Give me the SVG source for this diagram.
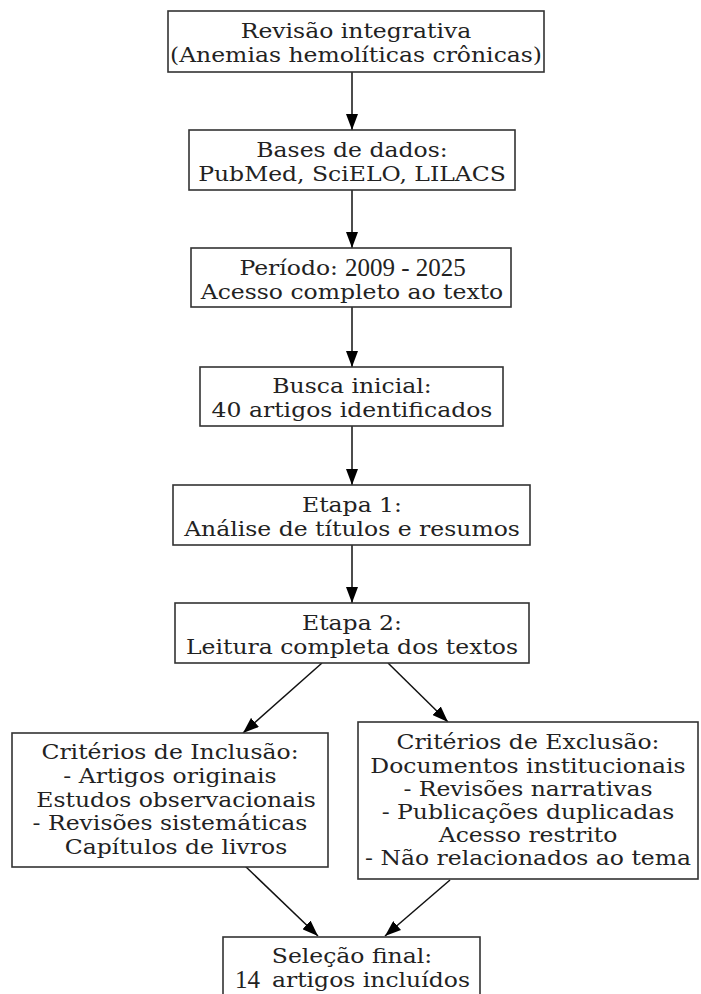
<svg xmlns="http://www.w3.org/2000/svg" width="701" height="994" viewBox="0 0 701 994">
<defs>
<marker id="ah" markerWidth="16" markerHeight="12" refX="16" refY="6" orient="auto" markerUnits="userSpaceOnUse">
<path d="M0,0 L16,6 L0,12 Z" fill="#000"/>
</marker>
<style>
.box{fill:#fff;stroke:#333;stroke-width:1.6}
.t{font-family:"DejaVu Serif",serif;font-size:19.5px;fill:#222;text-anchor:middle}
.r{text-anchor:end}
.n{font-family:"Liberation Serif",serif;font-size:25px;fill:#222}
.e{fill:none;stroke:#111;stroke-width:1.5;marker-end:url(#ah)}
</style>
</defs>
<rect width="701" height="994" fill="#fff"/>
<g id="edges">
<line class="e" x1="352" y1="72" x2="352" y2="130"/>
<line class="e" x1="352" y1="190" x2="352" y2="248"/>
<line class="e" x1="352" y1="307" x2="352" y2="367"/>
<line class="e" x1="352" y1="426" x2="352" y2="485"/>
<line class="e" x1="352" y1="545" x2="352" y2="603"/>
<line class="e" x1="322" y1="663" x2="243" y2="733"/>
<line class="e" x1="388" y1="663" x2="448" y2="722"/>
<line class="e" x1="245" y1="866" x2="318" y2="936"/>
<line class="e" x1="450" y1="880" x2="385" y2="936"/>
</g>
<g id="n1">
<rect class="box" x="168" y="11" width="376" height="61"/>
<g transform="translate(356 0) scale(1.205 1) translate(-356 0)">
<text class="t" x="356" y="38.5">Revisão integrativa</text>
<text class="t" x="356" y="62.5">(Anemias hemolíticas crônicas)</text>
</g>
</g>
<g id="n2">
<rect class="box" x="189" y="130" width="326" height="60"/>
<g transform="translate(352 0) scale(1.205 1) translate(-352 0)">
<text class="t" x="352" y="157.5">Bases de dados:</text>
<text class="t" x="352" y="181.5">PubMed, SciELO, LILACS</text>
</g>
</g>
<g id="n3">
<rect class="box" x="191" y="248" width="320" height="59"/>
<g transform="translate(352 0) scale(1.205 1) translate(-352 0)">
<text class="t r" x="340.4" y="275.5">Período:</text>
<text class="t" x="352" y="299.5">Acesso completo ao texto</text>
</g>
<text class="n" x="345" y="275.5">2009 - 2025</text>
</g>
<g id="n4">
<rect class="box" x="200" y="367" width="303" height="59"/>
<g transform="translate(352 0) scale(1.205 1) translate(-352 0)">
<text class="t" x="352" y="393.5">Busca inicial:</text>
<text class="t" x="352" y="417.5">40 artigos identificados</text>
</g>
</g>
<g id="n5">
<rect class="box" x="173" y="485" width="357" height="60"/>
<g transform="translate(352 0) scale(1.205 1) translate(-352 0)">
<text class="t" x="352" y="512.5">Etapa 1:</text>
<text class="t" x="352" y="536.5">Análise de títulos e resumos</text>
</g>
</g>
<g id="n6">
<rect class="box" x="175" y="603" width="354" height="60"/>
<g transform="translate(352 0) scale(1.205 1) translate(-352 0)">
<text class="t" x="352" y="630.5">Etapa 2:</text>
<text class="t" x="352" y="654.5">Leitura completa dos textos</text>
</g>
</g>
<g id="n7">
<rect class="box" x="12" y="733" width="316" height="134"/>
<g transform="translate(170 0) scale(1.205 1) translate(-170 0)">
<text class="t" x="170" y="759.5">Critérios de Inclusão:</text>
<text class="t" x="170" y="783.5">- Artigos originais</text>
<text class="t" x="175" y="807.5">Estudos observacionais</text>
<text class="t" x="170" y="830.5">- Revisões sistemáticas</text>
<text class="t" x="175" y="854.5">Capítulos de livros</text>
</g>
</g>
<g id="n8">
<rect class="box" x="358" y="722" width="340" height="157"/>
<g transform="translate(528 0) scale(1.205 1) translate(-528 0)">
<text class="t" x="528" y="749.5">Critérios de Exclusão:</text>
<text class="t" x="528" y="772.7">Documentos institucionais</text>
<text class="t" x="528" y="795.9">- Revisões narrativas</text>
<text class="t" x="528" y="819.1">- Publicações duplicadas</text>
<text class="t" x="528" y="842.3">Acesso restrito</text>
<text class="t" x="528" y="865.5">- Não relacionados ao tema</text>
</g>
</g>
<g id="n9">
<rect class="box" x="223" y="937" width="257" height="62"/>
<g transform="translate(352 0) scale(1.205 1) translate(-352 0)">
<text class="t" x="352" y="963.5">Seleção final:</text>
<text class="t r" x="449.9" y="987.5">artigos incluídos</text>
</g>
<text class="n" x="235" y="987.5">14</text>
</g>
</svg>
